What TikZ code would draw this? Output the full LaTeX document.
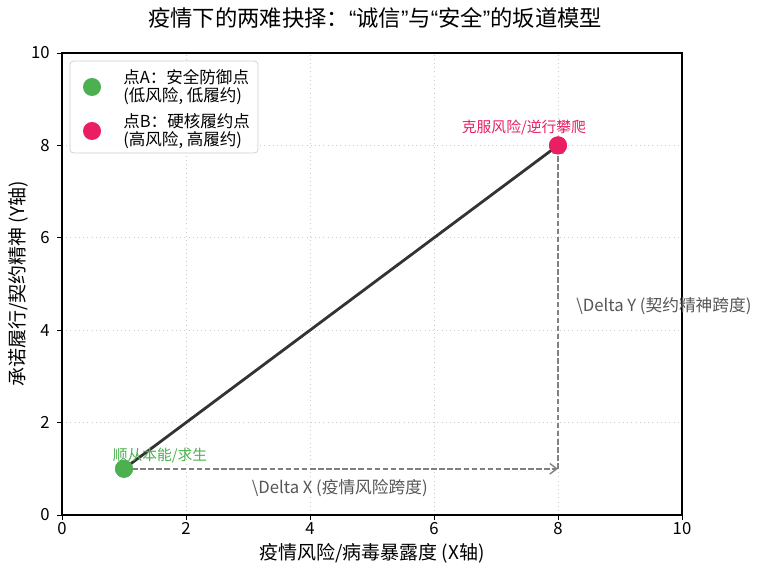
\documentclass[tikz,border=0pt]{standalone}
\usepackage{fontspec}
\setmainfont{Noto Sans CJK SC}
\newfontfamily\quotefont{Liberation Sans}
\usetikzlibrary{arrows.meta}

\definecolor{safegreen}{HTML}{4CAF50}
\definecolor{hardpink}{HTML}{E91E63}
\definecolor{slopeline}{HTML}{333333}
\definecolor{spantext}{HTML}{555555}

\newcommand{\openq}{{\quotefont “}}
\newcommand{\closeq}{{\quotefont ”}}

\tikzset{
  dot/.style={circle,inner sep=0pt,minimum size=0.36cm},
  ticklab/.style={font=\fontsize{9.5}{11}\selectfont},
  spanarrow/.style={gray,line width=0.8pt,dash pattern=on 3.2pt off 1.4pt,
    -{Straight Barb[length=4pt,width=6pt]}},
  spanlab/.style={text=spantext,font=\fontsize{9.5}{11}\selectfont,inner sep=0pt},
  gridline/.style={black!20,line width=0.4pt,dotted},
  legendtext/.style={font=\fontsize{9.4}{10.4}\selectfont,align=left,anchor=west,inner sep=0pt}
}

\begin{document}
\begin{tikzpicture}[x=1.24cm,y=0.924cm]
    \useasboundingbox (-1,-1.3203) rectangle (11.2419,11.1472);

    % grid
    \foreach \v in {2,4,6,8} {
        \draw[gridline] (\v,0) -- (\v,10);
        \draw[gridline] (0,\v) -- (10,\v);
    }

    % ticks
    \foreach \v in {0,2,4,6,8,10} {
        \draw (\v,0) -- ++(0,-0.1cm);
        \node[ticklab] (xt\v) at (\v,-0.30) {\v};
        \draw (0,\v) -- ++(-0.1cm,0);
        \node[ticklab,anchor=east] (yt\v) at (-0.10,\v) {\v};
    }
    \draw[line width=0.6pt] (0,0) rectangle (10,10);

    \node[font=\fontsize{12.7}{14}\selectfont] (title) at (5.05,10.76) {疫情下的两难抉择：\openq 诚信\closeq 与\openq 安全\closeq 的坂道模型};
    \node[font=\fontsize{10.8}{12}\selectfont] (xlab) at (5,-0.82) {疫情风险/病毒暴露度 (X轴)};
    \node[font=\fontsize{10.8}{12}\selectfont,rotate=90] (ylab) at (-0.71,5) {承诺履行/契约精神 (Y轴)};

    % the two points
    \node[dot,fill=safegreen] (A) at (1,1) {};
    \node[dot,fill=hardpink] (B) at (8,8) {};
    \coordinate (C) at (8,1);

    \draw[spanarrow] (A.center) -- (C);
    \draw[spanarrow] (C) -- (B.center);
    \draw[slopeline,line width=1.6pt] (A.center) -- (B.center);
    \node[dot,fill=safegreen] at (A) {};
    \node[dot,fill=hardpink] at (B) {};

    \node[text=safegreen,font=\fontsize{8.4}{10}\selectfont] (Alab) at (1.58,1.277) {顺从本能/求生};
    \node[text=hardpink,font=\fontsize{8.4}{10}\selectfont] (Blab) at (7.45,8.377) {克服风险/逆行攀爬};
    \node[spanlab] (dx) at (4.48,0.584) {\textbackslash Delta X (疫情风险跨度)};
    \node[spanlab,anchor=west] (dy) at (8.29,4.52) {\textbackslash Delta Y (契约精神跨度)};

    % legend
    \draw[black!20,fill=white,fill opacity=0.8,rounded corners=2pt] (0.129,7.835) rectangle (3.161,9.827);
    \node[dot,fill=safegreen] (legA) at (0.484,9.264) {};
    \node[dot,fill=hardpink] (legB) at (0.484,8.312) {};
    \node[legendtext] (legAtxt) at (0.984,9.264) {点A：安全防御点\\(低风险, 低履约)};
    \node[legendtext] (legBtxt) at (0.984,8.312) {点B：硬核履约点\\(高风险, 高履约)};
\end{tikzpicture}
\end{document}
